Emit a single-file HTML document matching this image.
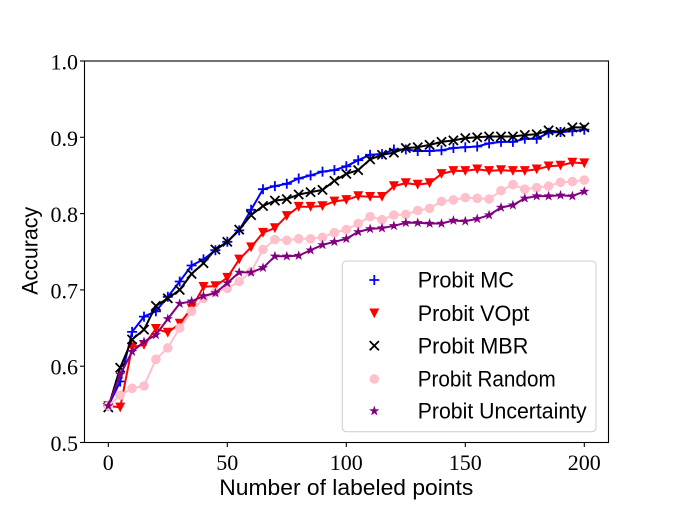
<!DOCTYPE html>
<html>
<head>
<meta charset="utf-8">
<style>
html,body{margin:0;padding:0;background:#fff;}
svg{display:block;}
.tk{font-family:"Liberation Serif",serif;font-size:22px;fill:#000;}
.sn{font-family:"Liberation Sans",sans-serif;font-size:22px;fill:#000;}
</style>
</head>
<body>
<svg width="676" height="507" viewBox="0 0 676 507" xmlns="http://www.w3.org/2000/svg">
<defs>
<marker id="mp" markerUnits="userSpaceOnUse" markerWidth="14" markerHeight="14" viewBox="-7 -7 14 14" refX="0" refY="0" overflow="visible">
<path d="M-5,0H5M0,-5V5" stroke="#0000ff" stroke-width="1.8" fill="none"/>
</marker>
<marker id="mt" markerUnits="userSpaceOnUse" markerWidth="14" markerHeight="14" viewBox="-7 -7 14 14" refX="0" refY="0" overflow="visible">
<polygon points="-5,-4.8 5,-4.8 0,5" fill="#ff0000"/>
</marker>
<marker id="mx" markerUnits="userSpaceOnUse" markerWidth="14" markerHeight="14" viewBox="-7 -7 14 14" refX="0" refY="0" overflow="visible">
<path d="M-4.6,-4.6L4.6,4.6M-4.6,4.6L4.6,-4.6" stroke="#000" stroke-width="1.8" fill="none"/>
</marker>
<marker id="mc" markerUnits="userSpaceOnUse" markerWidth="14" markerHeight="14" viewBox="-7 -7 14 14" refX="0" refY="0" overflow="visible">
<circle cx="0" cy="0" r="4.8" fill="#ffc0cb"/>
</marker>
<marker id="ms" markerUnits="userSpaceOnUse" markerWidth="14" markerHeight="14" viewBox="-7 -7 14 14" refX="0" refY="0" overflow="visible">
<polygon points="0,-5.4 1.25,-1.7 5.15,-1.67 2,0.65 3.18,4.37 0,2.1 -3.18,4.37 -2,0.65 -5.15,-1.67 -1.25,-1.7" fill="#800080"/>
</marker>
</defs>

<!-- axes spines -->
<rect x="84.5" y="61" width="524" height="381.5" fill="none" stroke="#000" stroke-width="1.1"/>

<!-- y ticks -->
<g stroke="#000" stroke-width="1.1">
<line x1="80" y1="61" x2="84.5" y2="61"/>
<line x1="80" y1="137.3" x2="84.5" y2="137.3"/>
<line x1="80" y1="213.6" x2="84.5" y2="213.6"/>
<line x1="80" y1="289.9" x2="84.5" y2="289.9"/>
<line x1="80" y1="366.2" x2="84.5" y2="366.2"/>
<line x1="80" y1="442.5" x2="84.5" y2="442.5"/>
<line x1="108.3" y1="442.5" x2="108.3" y2="447"/>
<line x1="227.3" y1="442.5" x2="227.3" y2="447"/>
<line x1="346.3" y1="442.5" x2="346.3" y2="447"/>
<line x1="465.3" y1="442.5" x2="465.3" y2="447"/>
<line x1="584.3" y1="442.5" x2="584.3" y2="447"/>
</g>

<g class="tk" text-anchor="end">
<text x="78" y="69.5">1.0</text>
<text x="78" y="145.8">0.9</text>
<text x="78" y="222.1">0.8</text>
<text x="78" y="298.4">0.7</text>
<text x="78" y="374.7">0.6</text>
<text x="78" y="451">0.5</text>
</g>
<g class="tk" text-anchor="middle">
<text x="108.3" y="470">0</text>
<text x="227.3" y="470">50</text>
<text x="346.3" y="470">100</text>
<text x="465.3" y="470">150</text>
<text x="584.3" y="470">200</text>
</g>

<text class="sn" x="346.3" y="495" text-anchor="middle" textLength="254" lengthAdjust="spacingAndGlyphs">Number of labeled points</text>
<text class="sn" transform="translate(37.5,250.8) rotate(-90)" text-anchor="middle" textLength="88" lengthAdjust="spacingAndGlyphs">Accuracy</text>

<g fill="none" stroke-width="2" stroke-linejoin="round" stroke-linecap="butt">
<!-- Probit MC -->
<polyline stroke="#0000ff" marker-start="url(#mp)" marker-mid="url(#mp)" marker-end="url(#mp)" points="108.3,405.9 120.2,381.5 132.1,331.9 144.0,316.6 155.9,311.3 167.8,296.8 179.7,281.5 191.6,265.5 203.5,259.4 215.4,250.2 227.3,241.8 239.2,230.4 251.1,209.8 263.0,189.2 274.9,186.1 286.8,183.8 298.7,178.5 310.6,175.4 322.5,171.6 334.4,170.1 346.3,166.3 358.2,160.2 370.1,154.8 382.0,154.1 393.9,149.5 405.8,149.5 417.7,151.0 429.6,151.0 441.5,150.3 453.4,148.0 465.3,147.2 477.2,146.5 489.1,143.4 501.0,141.9 512.9,141.9 524.8,138.8 536.7,138.8 548.6,132.7 560.5,132.0 572.4,131.2 584.3,129.7"/>
<!-- Probit VOpt -->
<polyline stroke="#ff0000" marker-start="url(#mt)" marker-mid="url(#mt)" marker-end="url(#mt)" points="108.3,405.9 120.2,407.4 132.1,347.1 144.0,344.8 155.9,328.8 167.8,332.6 179.7,323.5 191.6,308.2 203.5,286.8 215.4,286.1 227.3,277.7 239.2,259.4 251.1,247.2 263.0,232.7 274.9,228.1 286.8,215.9 298.7,206.7 310.6,206.7 322.5,206.0 334.4,201.4 346.3,199.9 358.2,196.1 370.1,196.8 382.0,196.8 393.9,186.1 405.8,183.1 417.7,184.6 429.6,183.1 441.5,173.9 453.4,170.9 465.3,170.9 477.2,169.3 489.1,170.9 501.0,170.1 512.9,170.9 524.8,170.9 536.7,169.3 548.6,166.3 560.5,165.5 572.4,162.5 584.3,163.2"/>
<!-- Probit MBR -->
<polyline stroke="#000000" marker-start="url(#mx)" marker-mid="url(#mx)" marker-end="url(#mx)" points="108.3,407.4 120.2,367.7 132.1,339.5 144.0,329.6 155.9,305.9 167.8,298.3 179.7,289.9 191.6,273.9 203.5,263.2 215.4,249.5 227.3,241.8 239.2,229.6 251.1,215.1 263.0,206.0 274.9,200.6 286.8,199.1 298.7,194.5 310.6,192.2 322.5,189.9 334.4,180.8 346.3,173.9 358.2,170.1 370.1,159.4 382.0,154.8 393.9,152.6 405.8,148.0 417.7,147.2 429.6,144.9 441.5,141.9 453.4,140.4 465.3,138.1 477.2,137.3 489.1,136.5 501.0,136.5 512.9,136.5 524.8,135.0 536.7,134.2 548.6,130.4 560.5,132.0 572.4,127.4 584.3,127.4"/>
<!-- Probit Random -->
<polyline stroke="#ffc0cb" marker-start="url(#mc)" marker-mid="url(#mc)" marker-end="url(#mc)" points="108.3,405.9 120.2,395.2 132.1,388.3 144.0,386.0 155.9,359.3 167.8,347.9 179.7,328.0 191.6,311.3 203.5,298.3 215.4,292.2 227.3,288.4 239.2,281.5 251.1,271.6 263.0,249.5 274.9,239.5 286.8,240.3 298.7,238.8 310.6,238.8 322.5,237.3 334.4,232.7 346.3,229.6 358.2,223.5 370.1,216.7 382.0,219.7 393.9,215.1 405.8,214.4 417.7,210.5 429.6,208.3 441.5,201.4 453.4,199.9 465.3,197.6 477.2,198.3 489.1,199.1 501.0,190.7 512.9,184.6 524.8,189.2 536.7,187.7 548.6,186.1 560.5,182.3 572.4,181.6 584.3,180.0"/>
<!-- Probit Uncertainty -->
<polyline stroke="#800080" marker-start="url(#ms)" marker-mid="url(#ms)" marker-end="url(#ms)" points="108.3,405.9 120.2,374.6 132.1,351.7 144.0,341.8 155.9,334.9 167.8,318.9 179.7,303.6 191.6,301.3 203.5,296.0 215.4,293.0 227.3,283.0 239.2,272.4 251.1,272.4 263.0,267.8 274.9,256.3 286.8,256.3 298.7,255.6 310.6,250.2 322.5,244.9 334.4,241.8 346.3,238.8 358.2,231.9 370.1,228.9 382.0,228.1 393.9,225.8 405.8,222.8 417.7,222.8 429.6,223.5 441.5,223.5 453.4,220.5 465.3,221.2 477.2,218.9 489.1,215.1 501.0,207.5 512.9,205.2 524.8,198.3 536.7,196.1 548.6,196.1 560.5,195.3 572.4,196.1 584.3,191.5"/>
</g>

<!-- legend -->
<rect x="342.3" y="261" width="253.7" height="170.7" rx="4" ry="4" fill="#ffffff" fill-opacity="0.85" stroke="#cccccc" stroke-width="1"/>
<path d="M369.3,280H379.3M374.3,275V285" stroke="#0000ff" stroke-width="1.8" fill="none"/>
<polygon points="369.3,308.5 379.3,308.5 374.3,318.3" fill="#ff0000"/>
<path d="M369.7,341.1L378.9,350.3M369.7,350.3L378.9,341.1" stroke="#000" stroke-width="1.8" fill="none"/>
<circle cx="374.3" cy="379" r="4.8" fill="#ffc0cb"/>
<polygon transform="translate(374.3,411)" points="0,-5.4 1.25,-1.7 5.15,-1.67 2,0.65 3.18,4.37 0,2.1 -3.18,4.37 -2,0.65 -5.15,-1.67 -1.25,-1.7" fill="#800080"/>
<g class="sn">
<text x="417.7" y="287.7" textLength="96.3" lengthAdjust="spacingAndGlyphs">Probit MC</text>
<text x="417.7" y="321" textLength="111.7" lengthAdjust="spacingAndGlyphs">Probit VOpt</text>
<text x="417.7" y="353.4" textLength="110.7" lengthAdjust="spacingAndGlyphs">Probit MBR</text>
<text x="417.7" y="386.7" textLength="138" lengthAdjust="spacingAndGlyphs">Probit Random</text>
<text x="417.7" y="418.7" textLength="169" lengthAdjust="spacingAndGlyphs">Probit Uncertainty</text>
</g>
</svg>
</body>
</html>
